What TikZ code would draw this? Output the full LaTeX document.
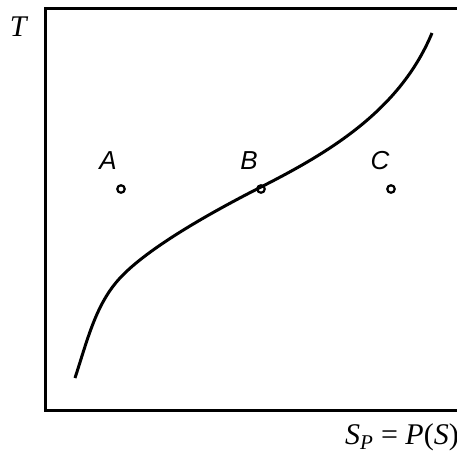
\documentclass[tikz,border=0pt]{standalone}
\usepackage{fontspec}
\setmainfont{Liberation Serif}
\setsansfont{Liberation Sans}
\begin{document}
\begin{tikzpicture}[x=1pt,y=-1pt,
  axisline/.style={line width=3pt},
  curveline/.style={line width=3pt},
  statedot/.style={circle,draw,line width=2.2pt,minimum size=7.5pt,inner sep=0pt},
  ptlabel/.style={font=\fontsize{26}{30}\selectfont\sffamily\itshape,inner sep=0pt},
  axlabel/.style={font=\fontsize{30}{34}\selectfont\rmfamily,inner sep=0pt}]
\useasboundingbox (0,0) rectangle (457,456);
\coordinate (tr) at (475,8);
\coordinate (tl) at (45,8);
\coordinate (bl) at (45,410);
\coordinate (br) at (475,410);
\draw[axisline,line join=miter] (tr) -- (tl) -- (bl) -- (br);
\node[axlabel,anchor=center] (T) at (19,27) {\textit{T}};
\node[axlabel,anchor=base west] (SP) at (345,444) {\textit{S}\textsubscript{\textit{P}} = \textit{P}(\textit{S})};
\coordinate (c0) at (75,378);
\coordinate (c1) at (120,278);
\coordinate (c2) at (261,187);
\coordinate (c3) at (432,33);
\draw[curveline,line cap=butt] (c0) .. controls (88,338) and (96,304) .. (c1)
  .. controls (145,251) and (200,218) .. (c2)
  .. controls (330,152) and (400,110) .. (c3);
\node[statedot] (A) at (121,189) {};
\node[statedot] (B) at (261,189) {};
\node[statedot] (C) at (391,189) {};
\node[ptlabel] (lA) at (108,161) {A};
\node[ptlabel] (lB) at (249,161) {B};
\node[ptlabel] (lC) at (380,161) {C};
\end{tikzpicture}
\end{document}
